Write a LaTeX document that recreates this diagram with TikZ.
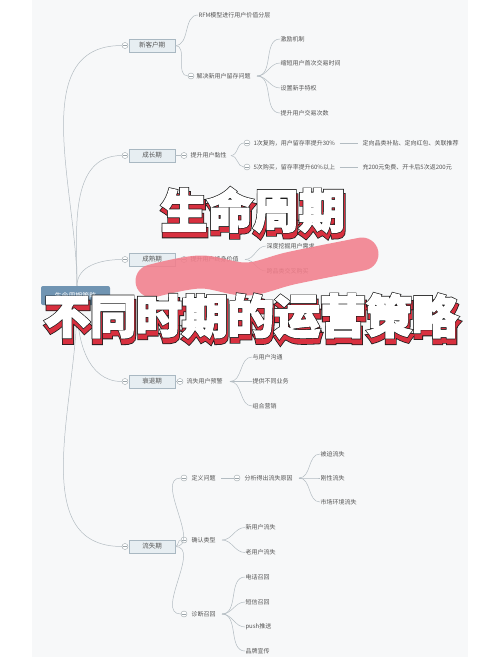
\documentclass[tikz,border=0pt]{standalone}
\usepackage{fontspec}
\newfontfamily\cjk{Noto Sans CJK SC}
\newfontfamily\tfW[FakeBold=3.5]{Noto Sans CJK SC}
\newfontfamily\tfK[FakeBold=6.5]{Noto Sans CJK SC}
\newfontfamily\tfS[FakeBold=10]{Noto Sans CJK SC}
\definecolor{panel}{HTML}{F7F8F9}
\definecolor{linec}{HTML}{B3BCC2}
\definecolor{txt}{HTML}{555555}
\definecolor{boxf}{HTML}{E7EEF2}
\definecolor{boxb}{HTML}{A9B8C2}
\definecolor{togc}{HTML}{9AA3A8}
\definecolor{rootc}{HTML}{7094B2}
\definecolor{pinkc}{HTML}{F27F8C}
\definecolor{shadowred}{HTML}{D8303F}
\definecolor{outl}{HTML}{1E1E1E}
\newcommand{\outlinedtitle}[4]{%
  \node[titlef, font=\tfS\bfseries\fontsize{46}{46}\selectfont, text=outl] (#1sb) at (#2+1,#3+5) {#4};
  \node[titlef, font=\tfK\bfseries\fontsize{46}{46}\selectfont, text=shadowred] (#1sr) at (#2+1,#3+5) {#4};
  \node[titlef, font=\tfK\bfseries\fontsize{46}{46}\selectfont, text=outl] (#1ob) at (#2,#3) {#4};
  \node[titlef, font=\tfW\bfseries\fontsize{46}{46}\selectfont, text=white] (#1) at (#2,#3) {#4};
}
\begin{document}
\begin{tikzpicture}[x=1pt,y=-1pt,
  conn/.style={draw=linec, line width=0.5pt},
  lab/.style={font=\cjk\fontsize{6}{7}\selectfont, text=txt, inner sep=0.3pt, anchor=west},
  lvl/.style={draw=boxb, fill=boxf, line width=0.5pt, minimum width=46pt, minimum height=13pt, inner sep=0pt, font=\cjk\fontsize{6.5}{7}\selectfont, text=txt},
  tog/.style={circle, draw=togc, fill=white, line width=0.4pt, minimum size=6pt, inner sep=0pt,
    path picture={\draw[togc,line width=0.4pt] ([xshift=1.4pt]path picture bounding box.west) -- ([xshift=-1.4pt]path picture bounding box.east);}},
  rootbox/.style={fill=rootc, rounded corners=2pt, minimum width=69pt, minimum height=19pt, inner sep=0pt, font=\cjk\fontsize{7}{8}\selectfont, text=white},
  titlef/.style={inner sep=0pt},
  pinkstroke/.style={draw=pinkc, line width=33pt, line cap=round, line join=round, opacity=0.88}
]
\useasboundingbox (0,0) rectangle (500,657);
\fill[white] (0,0) rectangle (500,657);
\fill[panel] (32,0) rectangle (468,657);

% root
\node[rootbox] (root) at (75.5,295.5) {生命周期策略};

% level 1
\node[lvl] (n1) at (152,45.5) {新客户期};
\node[lvl] (n2) at (152,155.5) {成长期};
\node[lvl] (n3) at (152,259.5) {成熟期};
\node[lvl] (n4) at (152,381.5) {衰退期};
\node[lvl] (n5) at (152,546.5) {流失期};
\foreach \i/\yy in {1/45.5,2/155.5,3/259.5,4/381.5,5/546.5}{
  \node[tog] (t\i) at (125,\yy) {};}
\draw[conn] ([xshift=1.5pt]root.north) to[out=90,in=180] (t1.west);
\draw[conn] ([xshift=1.5pt]root.north) to[out=90,in=180] (t2.west);
\draw[conn] ([xshift=1.5pt]root.north) to[out=90,in=180] (t3.west);
\draw[conn] ([xshift=1.5pt]root.south) to[out=-90,in=180] (t4.west);
\draw[conn] ([xshift=1.5pt]root.south) to[out=-90,in=180] (t5.west);

% 新客户期
\node[lab] (a1) at (198,15) {RFM模型进行用户价值分层};
\node[tog] (a2t) at (191,76) {};
\node[lab] (a2) at (196,76) {解决新用户留存问题};
\draw[conn] (n1.east) to[out=0,in=180] (a1.west);
\draw[conn] (n1.east) to[out=0,in=180] (a2t.west);
\foreach \nm/\yy/\lbl in {b1/39/激励机制, b2/63/缩短用户首次交易时间, b3/88/设置新手特权, b4/113/提升用户交易次数}{
  \node[lab] (\nm) at (280,\yy) {\lbl};
  \draw[conn] ([xshift=6pt]a2.east) to[out=0,in=180] (\nm.west);}

% 成长期
\node[tog] (c1t) at (184,155.5) {};
\node[lab] (c1) at (190,155.5) {提升用户黏性};
\draw[conn] (n2.east) -- (c1t.west);
\node[tog] (c2t) at (247,143) {};
\node[lab] (c2) at (253,143) {1次复购，用户留存率提升30\%};
\node[lab] (c2x) at (362,143) {定向品类补贴、定向红包、关联推荐};
\node[tog] (c3t) at (247,167) {};
\node[lab] (c3) at (253,167) {5次购买，留存率提升60\%以上};
\node[lab] (c3x) at (362,167) {充200元免费、开卡后5次返200元};
\draw[conn] ([xshift=4pt]c1.east) to[out=0,in=180] (c2t.west);
\draw[conn] ([xshift=4pt]c1.east) to[out=0,in=180] (c3t.west);
\draw[conn] ([xshift=4pt]c2.east) -- ([xshift=-4pt]c2x.west);
\draw[conn] ([xshift=4pt]c3.east) -- ([xshift=-4pt]c3x.west);

% 成熟期
\node[tog] (d1t) at (184,259.5) {};
\node[lab] (d1) at (190,259.5) {提升用户终身价值};
\draw[conn] (n3.east) -- (d1t.west);
\node[lab] (d2) at (266,246) {深度挖掘用户需求};
\node[lab] (d3) at (266,271) {跨品类交叉购买};
\draw[conn] ([xshift=6pt]d1.east) to[out=0,in=180] (d2.west);
\draw[conn] ([xshift=6pt]d1.east) to[out=0,in=180] (d3.west);

% 衰退期
\node[tog] (e1t) at (180,381.5) {};
\node[lab] (e1) at (186,381.5) {流失用户预警};
\draw[conn] (n4.east) -- (e1t.west);
\foreach \nm/\yy/\lbl in {e2/357/与用户沟通, e3/381.5/提供不同业务, e4/406/组合营销}{
  \node[lab] (\nm) at (252,\yy) {\lbl};
  \draw[conn] ([xshift=7pt]e1.east) to[out=0,in=180] (\nm.west);}

% 流失期
\node[tog] (f1t) at (184,478) {};
\node[lab] (f1) at (191,478) {定义问题};
\node[tog] (f2t) at (237,478) {};
\node[lab] (f2) at (244,478) {分析得出流失原因};
\draw[conn] ([xshift=5pt]f1.east) -- (f2t.west);
\foreach \nm/\yy/\lbl in {g1/454/被迫流失, g2/478/刚性流失, g3/502/市场环境流失}{
  \node[lab] (\nm) at (320,\yy) {\lbl};
  \draw[conn] ([xshift=6pt]f2.east) to[out=0,in=180] (\nm.west);}
\node[tog] (f3t) at (184,540) {};
\node[lab] (f3) at (191,540) {确认类型};
\foreach \nm/\yy/\lbl in {h1/527.5/新用户流失, h2/552.5/老用户流失}{
  \node[lab] (\nm) at (245,\yy) {\lbl};
  \draw[conn] ([xshift=6pt]f3.east) to[out=0,in=180] (\nm.west);}
\node[tog] (f4t) at (184,614) {};
\node[lab] (f4) at (191,614) {诊断召回};
\foreach \nm/\yy/\lbl in {k1/577/电话召回, k2/602/短信召回, k3/627/push推送, k4/651/品牌宣传}{
  \node[lab] (\nm) at (245,\yy) {\lbl};
  \draw[conn] ([xshift=6pt]f4.east) to[out=0,in=180] (\nm.west);}
\draw[conn] (n5.east) to[out=0,in=180] (f1t.west);
\draw[conn] (n5.east) to[out=0,in=180] (f3t.west);
\draw[conn] (n5.east) to[out=0,in=180] (f4t.west);

% pink brush stroke
\draw[pinkstroke] plot[smooth, tension=0.6] coordinates {(152,281) (200,272) (247,279) (292,268) (362,254)};

% titles
\outlinedtitle{titleA}{253}{210}{生命周期}
\outlinedtitle{titleB}{251}{316}{不同时期的运营策略}
\end{tikzpicture}
\end{document}
